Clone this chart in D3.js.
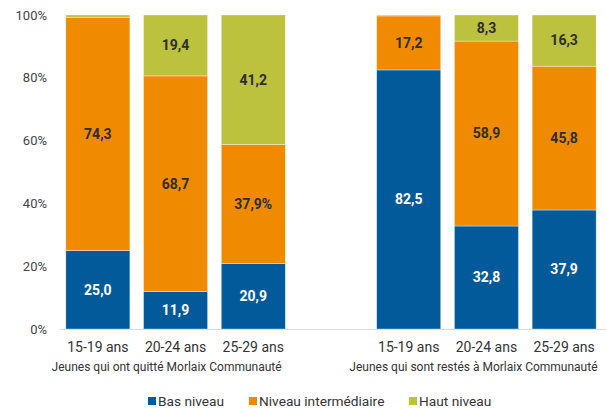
<!DOCTYPE html>
<html>
<head>
<meta charset="utf-8">
<script src="https://cdn.jsdelivr.net/npm/d3@7"></script>
<style>
  body { margin: 0; background: #fff; font-family: Roboto, "Open Sans", sans-serif; }
  svg text { font-family: Roboto, sans-serif; }
</style>
</head>
<body>
<div id="chart"></div>
<script>
// categories: two groups of three age bands, empty slot between
var groups = ["Jeunes qui ont quitté Morlaix Communauté", "Jeunes qui sont restés à Morlaix Communauté"];
var ages = ["15-19 ans", "20-24 ans", "25-29 ans"];
var series = ["Bas niveau", "Niveau intermédiaire", "Haut niveau"];
var colors = ["#025a9b", "#f08a00", "#bcc13e"];

// values per bar (group 1 then group 2), in %
var basNiveau = [25.0, 11.9, 20.9, 82.5, 32.8, 37.9];
var niveauInter = [74.3, 68.7, 37.9, 17.2, 58.9, 45.8];
var hautNiveau = [0.7, 19.4, 41.2, 0.3, 8.3, 16.3];
// labels as printed on the chart ("" = none)
var labels = [
  ["25,0", "11,9", "20,9", "82,5", "32,8", "37,9"],
  ["74,3", "68,7", "37,9%", "17,2", "58,9", "45,8"],
  ["", "19,4", "41,2", "", "8,3", "16,3"]
];
var yTicks = [0, 20, 40, 60, 80, 100];

var width = 606, height = 410;
var margin = {top: 15, right: 3, bottom: 81, left: 59};
var chartWidth = width - margin.left - margin.right;
var chartHeight = height - margin.top - margin.bottom;

var svg = d3.select("#chart").append("svg")
  .attr("width", width)
  .attr("height", height);
var g = svg.append("g")
  .attr("transform", "translate(" + margin.left + "," + margin.top + ")");

// slot keys: 3 bars, blank, 3 bars
var slots = ["a0", "a1", "a2", "gap", "b0", "b1", "b2"];
var barSlots = ["a0", "a1", "a2", "b0", "b1", "b2"];

var x = d3.scaleBand()
  .domain(slots)
  .range([0, chartWidth])
  .paddingInner(0.176)
  .paddingOuter(0.088);

var y = d3.scaleLinear()
  .domain([0, 100])
  .range([chartHeight, 0]);

var rows = barSlots.map(function(s, i) {
  return {slot: s, bas: basNiveau[i], inter: niveauInter[i], haut: hautNiveau[i]};
});
var stack = d3.stack().keys(["bas", "inter", "haut"])(rows);

// y axis labels
g.append("g")
  .selectAll("text")
  .data(yTicks)
  .enter()
  .append("text")
    .attr("x", -12)
    .attr("y", function(d) { return y(d); })
    .attr("dy", "0.35em")
    .attr("text-anchor", "end")
    .style("font-size", "13px")
    .style("fill", "#444")
    .text(function(d) { return d + "%"; });

// baseline
g.append("line")
  .attr("x1", 1).attr("x2", chartWidth + margin.right)
  .attr("y1", y(0) + 0.5).attr("y2", y(0) + 0.5)
  .style("stroke", "#d9d9d9")
  .style("stroke-width", 1);

// bars
var layers = g.selectAll(".layer")
  .data(stack)
  .enter()
  .append("g")
    .attr("class", "layer")
    .style("fill", function(d, i) { return colors[i]; });

layers.selectAll("rect")
  .data(function(d) { return d; })
  .enter()
  .append("rect")
    .attr("x", function(d) { return x(d.data.slot); })
    .attr("y", function(d) { return y(d[1]); })
    .attr("width", x.bandwidth())
    .attr("height", function(d) { return y(d[0]) - y(d[1]); })
    .style("stroke", "#fff")
    .style("stroke-width", 0.6)
    .style("stroke-opacity", 0.6);

// value labels
layers.each(function(layer, li) {
  d3.select(this).selectAll("text")
    .data(layer)
    .enter()
    .append("text")
      .attr("x", function(d) { return x(d.data.slot) + x.bandwidth() / 2; })
      .attr("y", function(d) { return (y(d[0]) + y(d[1])) / 2; })
      .attr("dy", "0.35em")
      .attr("text-anchor", "middle")
      .style("font-size", "14px")
      .style("font-weight", "bold")
      .style("stroke", "none")
      .style("fill", li === 0 ? "#fff" : "#2e2e2e")
      .text(function(d, i) { return labels[li][i]; });
});

// age labels
g.append("g")
  .selectAll("text")
  .data(barSlots)
  .enter()
  .append("text")
    .attr("x", function(d) { return x(d) + x.bandwidth() / 2; })
    .attr("y", chartHeight + 18)
    .attr("dy", "0.35em")
    .attr("text-anchor", "middle")
    .style("font-size", "14px")
    .style("fill", "#333")
    .text(function(d, i) { return ages[i % 3]; });

// group labels
g.append("g")
  .selectAll("text")
  .data(groups)
  .enter()
  .append("text")
    .attr("x", function(d, i) {
      var first = x(barSlots[i * 3]), last = x(barSlots[i * 3 + 2]) + x.bandwidth();
      return (first + last) / 2 - (i === 0 ? 9 : 13);
    })
    .attr("y", chartHeight + 38)
    .attr("dy", "0.35em")
    .attr("text-anchor", "middle")
    .style("font-size", "12px")
    .style("fill", "#333")
    .text(function(d) { return d; });

// legend
var legendX = [148, 249, 409];
var legend = svg.append("g")
  .selectAll("g")
  .data(series)
  .enter()
  .append("g")
    .attr("transform", function(d, i) { return "translate(" + legendX[i] + ",401)"; });
legend.append("rect")
  .attr("x", 0).attr("y", -4)
  .attr("width", 8).attr("height", 8)
  .style("fill", function(d, i) { return colors[i]; });
legend.append("text")
  .attr("x", 10)
  .attr("dy", "0.35em")
  .style("font-size", "13.7px")
  .style("fill", "#333")
  .text(function(d) { return d; });
</script>
</body>
</html>
